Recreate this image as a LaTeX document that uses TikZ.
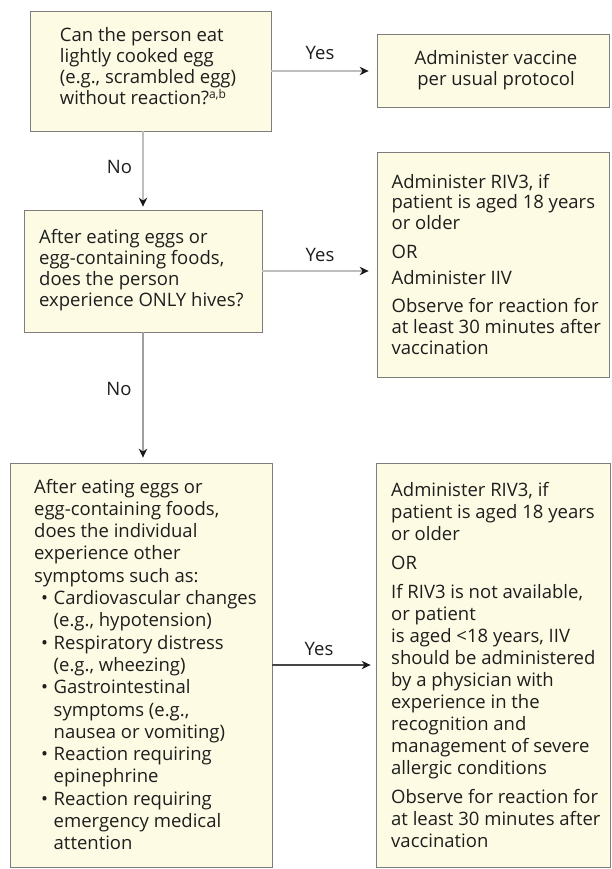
\documentclass[tikz,border=0pt]{standalone}
\usepackage{fontspec}
\setmainfont{Open Sans}
\usetikzlibrary{arrows.meta}

\definecolor{cream}{RGB}{253,251,227}
\definecolor{boxline}{RGB}{125,125,125}
\definecolor{linklight}{RGB}{190,190,190}
\definecolor{linkmid}{RGB}{160,160,160}
\definecolor{linkdark}{RGB}{70,70,70}
\definecolor{tipdark}{RGB}{25,25,25}
\definecolor{ink}{RGB}{30,30,30}

% text block: width, baseline skip, lines
\newcommand\flowtext[3]{\parbox[t]{#1}{\raggedright\fontsize{18.5}{#2}\selectfont #3}}
\newcommand\bul[1]{\hspace*{7pt}\makebox[12.5pt][l]{\textbullet}#1}
\newcommand\cont[1]{\hspace*{19.5pt}#1}

\begin{document}
\begin{tikzpicture}[x=1pt,y=-1pt,
  box/.style={draw=boxline, fill=cream, line width=0.8pt, inner sep=0pt},
  txt/.style={inner sep=0pt, anchor=base west, text=ink},
  lbl/.style={inner sep=0pt, anchor=base, text=ink, font=\fontsize{18.5}{21}\selectfont},
  conn/.style={draw=linklight, line width=1.2pt,
    -{Stealth[length=9pt,width=8.5pt,inset=3pt,color=tipdark]}},
]
\useasboundingbox[fill=white] (0,0) rectangle (612,869);

% boxes
\node[box, minimum width=241pt, minimum height=120pt] (q1) at (150.5,71) {};
\node[box, minimum width=232pt, minimum height=73pt]  (a1) at (493,70.5) {};
\node[box, minimum width=232pt, minimum height=225pt] (a2) at (493,264.5) {};
\node[box, minimum width=238pt, minimum height=122pt] (q2) at (143,271) {};
\node[box, minimum width=262pt, minimum height=404pt] (q3) at (141,665) {};
\node[box, minimum width=234pt, minimum height=404pt] (a3) at (493,665) {};

% box texts
\node[txt] (q1t) at (59.7,42) {\flowtext{205pt}{20.7pt}{%
  Can the person eat\\
  lightly cooked egg\\
  (e.g., scrambled egg)\\
  without reaction?{\fontsize{12}{12}\selectfont\raisebox{6pt}{a,b}}}};

\node[inner sep=0pt, anchor=base, text=ink] (a1t) at (496,65) {\parbox[t]{210pt}{\centering\fontsize{18.5}{20.5}\selectfont
  Administer vaccine\\
  per usual protocol}};

\node[txt] (a2t) at (391.4,188) {\flowtext{215pt}{20.7pt}{%
  Administer RIV3, if\\
  patient is aged 18 years\\
  or older\\[8pt]
  OR\\[5.3pt]
  Administer IIV\\[8pt]
  Observe for reaction for\\
  at least 30 minutes after\\
  vaccination}};

\node[txt] (q2t) at (39,243) {\flowtext{220pt}{21pt}{%
  After eating eggs or\\
  egg-containing foods,\\
  does the person\\
  experience ONLY hives?}};

\node[txt] (q3t) at (34,493) {\flowtext{235pt}{22.3pt}{%
  After eating eggs or\\
  egg-containing foods,\\
  does the individual\\
  experience other\\
  symptoms such as:\\
  \bul{Cardiovascular changes}\\
  \cont{(e.g., hypotension)}\\
  \bul{Respiratory distress}\\
  \cont{(e.g., wheezing)}\\
  \bul{Gastrointestinal}\\
  \cont{symptoms (e.g.,}\\
  \cont{nausea or vomiting)}\\
  \bul{Reaction requiring}\\
  \cont{epinephrine}\\
  \bul{Reaction requiring}\\
  \cont{emergency medical}\\
  \cont{attention}}};

\node[txt] (a3t) at (391,496) {\flowtext{215pt}{22pt}{%
  Administer RIV3, if\\
  patient is aged 18 years\\
  or older\\[7pt]
  OR\\[7pt]
  If RIV3 is not available,\\
  or patient\\
  is aged <18 years, IIV\\
  should be administered\\
  by a physician with\\
  experience in the\\
  recognition and\\
  management of severe\\
  allergic conditions\\[7pt]
  Observe for reaction for\\
  at least 30 minutes after\\
  vaccination}};

% connectors
\draw[conn, shorten >=8pt] (q1.east) -- (q1.east -| a1.west);
\draw[conn, shorten >=3pt] (q2.north |- q1.south) -- (q2.north);
\draw[conn, shorten >=8pt] (q2.east) -- (q2.east -| a2.west);
\draw[conn, draw=linkmid, shorten >=5pt] (q2.south) -- (q2.south |- q3.north);
\draw[conn, draw=linkdark, shorten >=5pt] (q3.east) -- (q3.east -| a3.west);

% connector labels
\node[lbl] (yes1) at (320,60) {Yes};
\node[lbl] (no1)  at (119.5,173) {No};
\node[lbl] (yes2) at (320,261.5) {Yes};
\node[lbl] (no2)  at (119,395) {No};
\node[lbl] (yes3) at (319,655) {Yes};
\end{tikzpicture}
\end{document}
